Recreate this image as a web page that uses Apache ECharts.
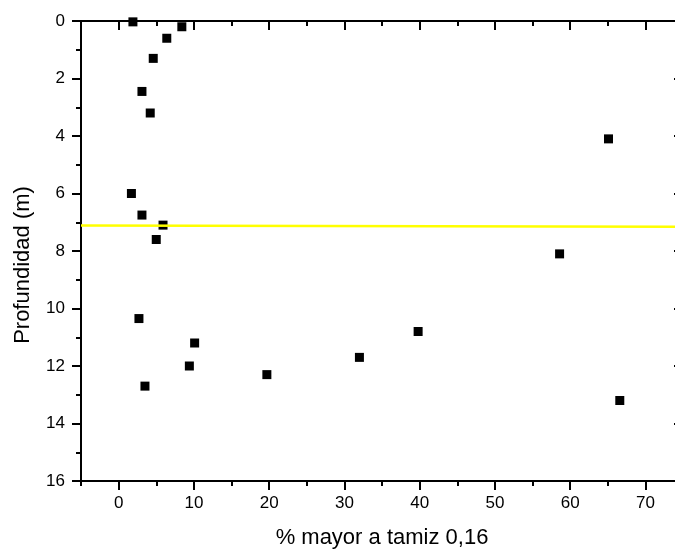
<!DOCTYPE html>
<html>
<head>
<meta charset="utf-8">
<script src="https://cdn.jsdelivr.net/npm/echarts@6/dist/echarts.min.js"></script>
<style>html,body{margin:0;padding:0;background:#fff;}#c{width:675px;height:551px;}</style>
</head>
<body>
<div id="c"></div>
<script>
const pctMayor = [1.9, 8.4, 6.4, 4.6, 3.1, 4.2, 65.1, 1.7, 3.1, 5.9, 5.0, 58.6, 2.7, 10.1, 9.4, 3.5, 19.7, 32.0, 39.8, 66.6];
const profundidad = [0.03, 0.2, 0.6, 1.3, 2.45, 3.2, 4.1, 6.0, 6.75, 7.1, 7.6, 8.1, 10.35, 11.2, 12.0, 12.7, 12.3, 11.7, 10.8, 13.2];
const lineX = [-5, 75];
const lineY = [7.11, 7.16];
const xMajorTicks = [0, 10, 20, 30, 40, 50, 60, 70];
const xMinorTicks = [-5, 5, 15, 25, 35, 45, 55, 65, 75];
const xTitle = '% mayor a tamiz 0,16';
const yTitle = 'Profundidad (m)';

const FONT = 'Liberation Sans, Arial, sans-serif';
const black = '#000';
const baseX = {type: 'value', min: -5, max: 75, splitLine: {show: false}};
const baseY = {type: 'value', min: 0, max: 16, interval: 2, inverse: true, splitLine: {show: false}};
const lineSt = {color: black, width: 2};

const chart = echarts.init(document.getElementById('c'), null, {renderer: 'canvas'});
chart.setOption({
  backgroundColor: '#fff',
  animation: false,
  grid: {left: 81, top: 21, width: 602, height: 460, containLabel: false, outerBoundsMode: 'none'},
  xAxis: [
    Object.assign({}, baseX, {
      position: 'bottom',
      name: xTitle, nameLocation: 'middle', nameGap: 46,
      nameTextStyle: {color: black, fontSize: 22, fontFamily: FONT},
      axisLine: {show: true, onZero: false, lineStyle: lineSt},
      axisTick: {show: true, inside: false, length: 9, customValues: xMajorTicks, lineStyle: lineSt},
      axisLabel: {show: true, customValues: xMajorTicks, color: black, fontSize: 17, fontFamily: FONT, margin: 14}
    }),
    Object.assign({}, baseX, {
      position: 'bottom',
      axisLine: {show: false, onZero: false},
      axisTick: {show: true, inside: false, length: 5, customValues: xMinorTicks, lineStyle: lineSt},
      axisLabel: {show: false}
    }),
    Object.assign({}, baseX, {
      position: 'top',
      axisLine: {show: true, onZero: false, lineStyle: lineSt},
      axisTick: {show: true, inside: true, length: 9, customValues: xMajorTicks, lineStyle: lineSt},
      axisLabel: {show: false}
    }),
    Object.assign({}, baseX, {
      position: 'top',
      axisLine: {show: false, onZero: false},
      axisTick: {show: true, inside: true, length: 5, customValues: xMinorTicks, lineStyle: lineSt},
      axisLabel: {show: false}
    })
  ],
  yAxis: [
    Object.assign({}, baseY, {
      position: 'left',
      name: yTitle, nameLocation: 'middle', nameGap: 47, nameRotate: 90,
      nameTextStyle: {color: black, fontSize: 22, fontFamily: FONT, padding: [0, 28, 0, 0]},
      axisLine: {show: true, onZero: false, lineStyle: lineSt},
      axisTick: {show: true, inside: false, length: 9, lineStyle: lineSt},
      minorTick: {show: true, splitNumber: 2, length: 5, lineStyle: lineSt},
      axisLabel: {show: true, color: black, fontSize: 17, fontFamily: FONT, margin: 16}
    }),
    Object.assign({}, baseY, {
      position: 'right',
      axisLine: {show: true, onZero: false, lineStyle: lineSt},
      axisTick: {show: true, inside: true, length: 9, lineStyle: lineSt},
      minorTick: {show: true, splitNumber: 2, length: 5, lineStyle: lineSt},
      axisLabel: {show: false}
    })
  ],
  series: [
    {
      type: 'scatter',
      xAxisIndex: 0, yAxisIndex: 0,
      symbol: 'rect', symbolSize: 9,
      itemStyle: {color: '#000', opacity: 1},
      data: pctMayor.map((v, i) => [v, profundidad[i]]),
      clip: true, z: 2
    },
    {
      type: 'line',
      xAxisIndex: 0, yAxisIndex: 0,
      showSymbol: false, symbol: 'none',
      lineStyle: {color: '#ffff00', width: 2.5},
      data: lineX.map((v, i) => [v, lineY[i]]),
      z: 3
    }
  ]
});
</script>
</body>
</html>
